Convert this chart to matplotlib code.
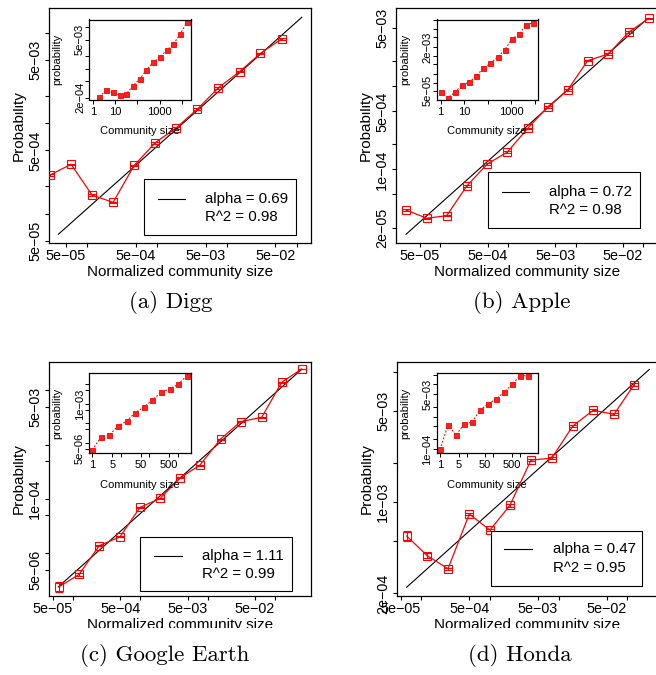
import matplotlib
matplotlib.use("Agg")
import matplotlib.pyplot as plt
from matplotlib.lines import Line2D
from matplotlib.patches import Rectangle
from matplotlib.transforms import Bbox, TransformedBbox
from matplotlib.ticker import NullLocator

plt.rcParams['font.family'] = ['Liberation Sans', 'DejaVu Sans']

W, H = 656, 675

# ---------------- data ----------------
# (a) Digg
digg_x = [2.98e-5, 5.96e-5, 1.19e-4, 2.38e-4, 4.77e-4, 9.54e-4, 1.91e-3, 3.81e-3, 7.63e-3, 1.53e-2, 3.05e-2, 6.10e-2]
digg_y = [2.67e-4, 3.51e-4, 1.60e-4, 1.33e-4, 3.42e-4, 6.08e-4, 8.91e-4, 1.43e-3, 2.47e-3, 3.72e-3, 5.94e-3, 8.57e-3]
digg_err = [0.02, 0.02, 0.02, 0.02, 0.02, 0.02, 0.02, 0.02, 0.02, 0.02, 0.02, 0.02]
digg_fit_x = [3.92e-5, 0.119]
digg_fit_y = [5.89e-5, 1.489e-2]
digg_alpha, digg_r2 = "0.69", "0.98"
digg_in_x = [2, 4, 8, 16, 32, 64, 128, 256, 512, 1024, 2048, 4096, 8192, 16384]
digg_in_y = [2.11e-4, 3.04e-4, 2.68e-4, 2.31e-4, 2.49e-4, 3.88e-4, 5.71e-4, 9.18e-4, 1.43e-3, 1.88e-3, 2.77e-3, 3.86e-3, 6.70e-3, 1.28e-2]

# (b) Apple
apple_x = [3.10e-5, 6.28e-5, 1.24e-4, 2.45e-4, 4.95e-4, 9.78e-4, 1.96e-3, 3.87e-3, 7.65e-3, 1.51e-2, 3.05e-2, 6.18e-2, 0.122]
apple_y = [3.25e-5, 2.59e-5, 2.78e-5, 6.32e-5, 1.165e-4, 1.62e-4, 3.13e-4, 5.65e-4, 9.06e-4, 2.04e-3, 2.45e-3, 4.51e-3, 6.6e-3]
apple_err = [0.03, 0.02, 0.02, 0.02, 0.02, 0.02, 0.02, 0.02, 0.02, 0.02, 0.02, 0.02, 0.02]
apple_fit_x = [3.1e-5, 0.113]
apple_fit_y = [1.66e-5, 6.42e-3]
apple_alpha, apple_r2 = "0.72", "0.98"
apple_in_x = [1, 2, 4, 8, 16, 32, 64, 128, 256, 512, 1024, 2048, 4096, 8192]
apple_in_y = [4.37e-5, 2.75e-5, 4.37e-5, 8.13e-5, 1.02e-4, 1.75e-4, 3.38e-4, 5.18e-4, 8.63e-4, 1.61e-3, 4.01e-3, 6.14e-3, 1.36e-2, 1.65e-2]

# (c) Google Earth
ge_x = [6.20e-5, 1.227e-4, 2.45e-4, 4.99e-4, 9.86e-4, 1.97e-3, 3.91e-3, 7.65e-3, 1.55e-2, 3.07e-2, 6.31e-2, 0.125, 0.247]
ge_y = [2.42e-6, 4.09e-6, 1.38e-5, 2.02e-5, 7.02e-5, 1.03e-4, 2.46e-4, 4.22e-4, 1.27e-3, 2.65e-3, 3.19e-3, 1.41e-2, 2.47e-2]
ge_err = [0.25, 0.05, 0.03, 0.03, 0.02, 0.02, 0.02, 0.02, 0.02, 0.02, 0.02, 0.02, 0.02]
ge_fit_x = [6.06e-5, 0.247]
ge_fit_y = [2.42e-6, 2.44e-2]
ge_alpha, ge_r2 = "1.11", "0.99"
ge_in_x = [1, 2, 4, 8, 16, 32, 64, 128, 256, 512, 1024, 2048]
ge_in_y = [4.19e-6, 1.89e-5, 2.48e-5, 7.23e-5, 1.31e-4, 3.50e-4, 6.65e-4, 1.58e-3, 3.94e-3, 5.83e-3, 1.02e-2, 2.83e-2]

# (d) Honda
honda_x = [6.14e-5, 1.22e-4, 2.45e-4, 5.0e-4, 1.0e-3, 1.95e-3, 3.95e-3, 7.91e-3, 1.60e-2, 3.19e-2, 6.38e-2, 0.126]
honda_y = [5.50e-4, 3.89e-4, 3.09e-4, 8.10e-4, 6.11e-4, 9.44e-4, 2.10e-3, 2.17e-3, 3.82e-3, 5.06e-3, 4.70e-3, 7.96e-3]
honda_err = [0.085, 0.04, 0.02, 0.02, 0.02, 0.02, 0.02, 0.02, 0.02, 0.02, 0.02, 0.02]
honda_fit_x = [6.13e-5, 0.208]
honda_fit_y = [2.23e-4, 1.037e-2]
honda_alpha, honda_r2 = "0.47", "0.95"
honda_in_x = [1, 2, 4, 8, 16, 32, 64, 128, 256, 512, 1024, 2048]
honda_in_y = [0.98e-4, 5.53e-4, 2.71e-4, 5.94e-4, 6.71e-4, 1.61e-3, 2.47e-3, 3.53e-3, 5.69e-3, 1.0e-2, 1.86e-2, 1.86e-2]

captions = ["(a) Digg", "(b) Apple", "(c) Google Earth", "(d) Honda"]

main_xticks = [5e-5, 1e-4, 5e-4, 1e-3, 5e-3, 1e-2, 5e-2, 1e-1]
main_xlab = [5e-5, 5e-4, 5e-3, 5e-2]
in_xticks_ab = [1, 10, 100, 1000, 10000]
in_xlab_ab = [1, 10, 1000]
in_xticks_cd = [1, 5, 10, 50, 100, 500, 1000]
in_xlab_cd = [1, 5, 50, 500]

# ---------------- layout (pixels from top-left) ----------------
panels = [
    dict(x=digg_x, y=digg_y, err=digg_err, fx=digg_fit_x, fy=digg_fit_y, alpha=digg_alpha, r2=digg_r2,
         ix=digg_in_x, iy=digg_in_y, cap=captions[0],
         main=(49, 8.3, 311, 243.3), xlim=(2.88e-5, 0.161), ylim=(4.68e-5, 1.873e-2),
         yt=[5e-5, 1e-4, 2e-4, 5e-4, 1e-3, 2e-3, 5e-3, 1e-2], yl=[5e-5, 5e-4, 5e-3],
         inset=(89.3, 19.5, 190.5, 99.5), ixlim=(0.70, 2.4e4), iylim=(1.82e-4, 1.51e-2),
         ixt=in_xticks_ab, ixl=in_xlab_ab,
         iyt=[2e-4, 5e-4, 1e-3, 2e-3, 5e-3, 1e-2], iyl=[2e-4, 5e-3],
         leg=(144, 179, 296, 235), legline=(158, 185, 199), legtx=205, legty=(199, 217),
         ylab_x=23, ylab_clip=12.5, xlab_y=276.5, xlab_clip=None, ilab_x=60.5, ixlab_y=134,
         capxy=(170.8, 308)),
    dict(x=apple_x, y=apple_y, err=apple_err, fx=apple_fit_x, fy=apple_fit_y, alpha=apple_alpha, r2=apple_r2,
         ix=apple_in_x, iy=apple_in_y, cap=captions[1],
         main=(395.7, 8.3, 658, 242.7), xlim=(2.18e-5, 0.166), ylim=(1.315e-5, 8.7e-3),
         yt=[2e-5, 5e-5, 1e-4, 2e-4, 5e-4, 1e-3, 2e-3, 5e-3], yl=[2e-5, 1e-4, 5e-4, 5e-3],
         inset=(436.7, 19.5, 537.7, 100), ixlim=(0.676, 1.29e4), iylim=(2.26e-5, 2.17e-2),
         ixt=in_xticks_ab, ixl=in_xlab_ab,
         iyt=[5e-5, 1e-4, 2e-4, 5e-4, 1e-3, 2e-3, 5e-3, 1e-2, 2e-2], iyl=[5e-5, 2e-3],
         leg=(487.7, 172.3, 640, 227.7), legline=(501.7, 529.3, 192.3), legtx=549.3, legty=(192.3, 210),
         ylab_x=370, ylab_clip=359.5, xlab_y=276.5, xlab_clip=None, ilab_x=407.9, ixlab_y=134.5,
         capxy=(521.7, 308)),
    dict(x=ge_x, y=ge_y, err=ge_err, fx=ge_fit_x, fy=ge_fit_y, alpha=ge_alpha, r2=ge_r2,
         ix=ge_in_x, iy=ge_in_y, cap=captions[2],
         main=(49, 361.7, 311, 596), xlim=(4.4e-5, 0.34), ylim=(1.64e-6, 3.37e-2),
         yt=[5e-6, 1e-5, 5e-5, 1e-4, 5e-4, 1e-3, 5e-3, 1e-2], yl=[5e-6, 1e-4, 5e-3],
         inset=(89.3, 372.7, 190.7, 453.3), ixlim=(0.785, 2820), iylim=(2.83e-6, 4.04e-2),
         ixt=in_xticks_cd, ixl=in_xlab_cd,
         iyt=[5e-6, 1e-5, 5e-5, 1e-4, 5e-4, 1e-3, 5e-3, 1e-2], iyl=[5e-6, 1e-3],
         leg=(140, 536.7, 292.3, 590.7), legline=(154, 181.7, 555.7), legtx=201.7, legty=(555.7, 574.3),
         ylab_x=23, ylab_clip=12.5, xlab_y=629.5, xlab_clip=627.5, ilab_x=60.5, ixlab_y=488,
         capxy=(165, 661)),
    dict(x=honda_x, y=honda_y, err=honda_err, fx=honda_fit_x, fy=honda_fit_y, alpha=honda_alpha, r2=honda_r2,
         ix=honda_in_x, iy=honda_in_y, cap=captions[3],
         main=(396.7, 361.7, 658, 596), xlim=(4.39e-5, 0.279), ylim=(1.91e-4, 1.19e-2),
         yt=[2e-4, 5e-4, 1e-3, 2e-3, 5e-3, 1e-2], yl=[2e-4, 1e-3, 5e-3],
         inset=(436.7, 372.7, 537.7, 453.3), ixlim=(0.75, 4710), iylim=(7.36e-5, 2.3e-2),
         ixt=in_xticks_cd, ixl=in_xlab_cd,
         iyt=[1e-4, 2e-4, 5e-4, 1e-3, 2e-3, 5e-3, 1e-2, 2e-2], iyl=[1e-4, 5e-3],
         leg=(490.7, 530.7, 642.3, 585.7), legline=(504, 531.7, 549.3), legtx=552.7, legty=(549.3, 568.3),
         ylab_x=371, ylab_clip=360.5, xlab_y=629.5, xlab_clip=627.5, ilab_x=407.9, ixlab_y=488,
         capxy=(520, 661)),
]

fig = plt.figure(figsize=(W / 100, H / 100), dpi=100)


def px_rect(x0, y0, x1, y1):
    return [x0 / W, 1 - y1 / H, (x1 - x0) / W, (y1 - y0) / H]


def FX(x):
    return x / W


def FY(y):
    return 1 - y / H


def clip(t, x0, y0, x1, y1):
    bb = Bbox.from_extents(FX(x0), FY(y1), FX(x1), FY(y0))
    t.set_clip_box(TransformedBbox(bb, fig.transFigure))
    t.set_clip_on(True)


def rfmt(v):
    return f"{v:.0e}".replace('-', '\u2212')


for P in panels:
    # ---- main axes ----
    ax = fig.add_axes(px_rect(*P['main']))
    ax.set_xscale('log')
    ax.set_yscale('log')
    ax.set_xlim(*P['xlim'])
    ax.set_ylim(*P['ylim'])
    ax.plot(P['fx'], P['fy'], color='black', lw=0.8, zorder=2)
    lo = [yy * e / (1 + e) for yy, e in zip(P['y'], P['err'])]
    hi = [yy * e for yy, e in zip(P['y'], P['err'])]
    ax.errorbar(P['x'], P['y'], yerr=[lo, hi], fmt='-s', color='red', mfc='none', mec='red',
                ms=5.2, mew=0.8, lw=0.9, capsize=2.6, capthick=0.8, elinewidth=0.8, zorder=3)
    ax.set_xticks(main_xticks, [rfmt(v) if v in main_xlab else '' for v in main_xticks])
    ax.set_yticks(P['yt'], [rfmt(v) if v in P['yl'] else '' for v in P['yt']], rotation=90, va='center')
    ax.xaxis.set_minor_locator(NullLocator())
    ax.yaxis.set_minor_locator(NullLocator())
    ax.tick_params(direction='out', length=3, width=0.8, labelsize=10.4, colors='black')
    ax.tick_params(axis='x', pad=1.2)
    ax.tick_params(axis='y', pad=1.8)
    for s in ax.spines.values():
        s.set_linewidth(0.9)

    x0, y0, x1, y1 = P['main']
    t = fig.text(FX(P['ylab_x']), FY((y0 + y1) / 2), 'Probability', rotation=90, rotation_mode='anchor',
                 ha='center', va='baseline', fontsize=11)
    clip(t, P['ylab_clip'], 0, W, H)
    t = fig.text(FX((x0 + min(x1, 658)) / 2), FY(P['xlab_y']), 'Normalized community size',
                 ha='center', va='baseline', fontsize=11)
    if P['xlab_clip'] is not None:
        clip(t, 0, 0, W, P['xlab_clip'])

    # ---- inset ----
    ia = fig.add_axes(px_rect(*P['inset']))
    ia.set_xscale('log')
    ia.set_yscale('log')
    ia.set_xlim(*P['ixlim'])
    ia.set_ylim(*P['iylim'])
    ia.plot(P['ix'], P['iy'], color='red', ls=(0, (1.6, 1.6)), lw=0.8, marker='s', ms=3.6,
            mfc='#ff2020', mec='red', mew=0.6)
    ia.set_xticks(P['ixt'], [str(v) if v in P['ixl'] else '' for v in P['ixt']])
    ia.set_yticks(P['iyt'], [rfmt(v) if v in P['iyl'] else '' for v in P['iyt']], rotation=90, va='center')
    ia.xaxis.set_minor_locator(NullLocator())
    ia.yaxis.set_minor_locator(NullLocator())
    ia.tick_params(direction='out', length=2.6, width=0.7, labelsize=8)
    ia.tick_params(axis='x', pad=2.5)
    ia.tick_params(axis='y', pad=0.5)
    for s in ia.spines.values():
        s.set_linewidth(0.9)
    i0, j0, i1, j1 = P['inset']
    fig.text(FX(P['ilab_x']), FY((j0 + j1) / 2), 'probability', rotation=90, rotation_mode='anchor',
             ha='center', va='baseline', fontsize=8)
    fig.text(FX((i0 + i1) / 2), FY(P['ixlab_y']), 'Community size', ha='center', va='baseline', fontsize=8)

    # ---- legend ----
    lx0, ly0, lx1, ly1 = P['leg']
    fig.add_artist(Rectangle((FX(lx0), FY(ly1)), (lx1 - lx0) / W, (ly1 - ly0) / H,
                             transform=fig.transFigure, facecolor='white', edgecolor='black', lw=0.8))
    a, b, yy = P['legline']
    fig.add_artist(Line2D([FX(a), FX(b)], [FY(yy), FY(yy)], transform=fig.transFigure, color='black', lw=0.8))
    fig.text(FX(P['legtx']), FY(P['legty'][0]), 'alpha = ' + P['alpha'], ha='left', va='center', fontsize=10.8)
    fig.text(FX(P['legtx']), FY(P['legty'][1]), 'R^2 = ' + P['r2'], ha='left', va='center', fontsize=10.8)

    # ---- caption ----
    fig.text(FX(P['capxy'][0]), FY(P['capxy'][1]), P['cap'], family='cmr10', fontsize=16.5,
             ha='center', va='baseline')

fig.savefig('out.png', dpi=100)
